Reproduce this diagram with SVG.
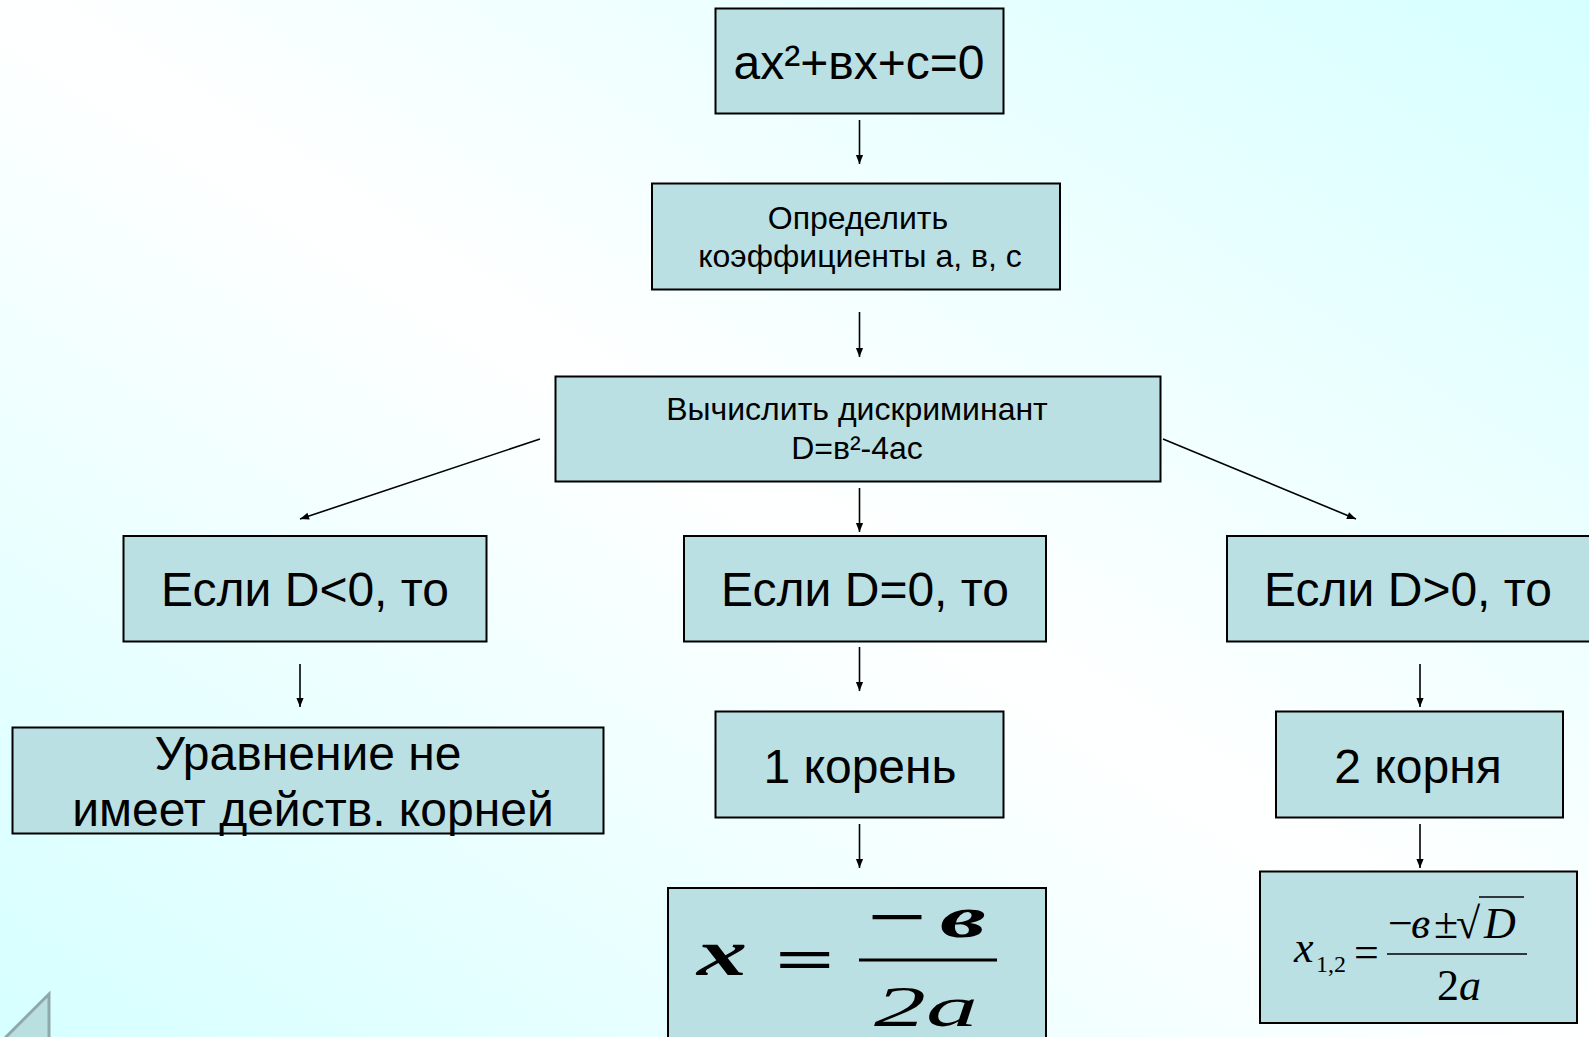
<svg xmlns="http://www.w3.org/2000/svg" width="1589" height="1037" viewBox="0 0 1589 1037">
  <defs>
    <linearGradient id="bg" x1="0" y1="1" x2="1" y2="0">
      <stop offset="0" stop-color="#d6ffff"/>
      <stop offset="0.5" stop-color="#ffffff"/>
      <stop offset="1" stop-color="#d6ffff"/>
    </linearGradient>
    <marker id="ah" viewBox="0 0 10 10" refX="10" refY="5" markerWidth="11" markerHeight="9" markerUnits="userSpaceOnUse" orient="auto">
      <path d="M0,1 L10,5 L0,9 Z" fill="#000"/>
    </marker>
    <style>
      .box { fill: #bbe0e3; stroke: #000; stroke-width: 2; }
      .t { font-family: "Liberation Sans", Arial, sans-serif; fill: #000; text-anchor: middle; }
      .big { font-size: 48px; }
      .mid { font-size: 32px; }
      .conn line { stroke: #000; stroke-width: 1.6; marker-end: url(#ah); }
      .m { font-family: "Liberation Serif", "Times New Roman", serif; fill: #000; }
    </style>
  </defs>
  <rect x="0" y="0" width="1589" height="1037" fill="url(#bg)"/>
  <polygon points="49,994 49,1045 -2,1045" fill="#b9dfe0" stroke="#8fa9aa" stroke-width="3"/>

  <g id="connectors" class="conn">
    <line x1="859.5" y1="120" x2="859.5" y2="164"/>
    <line x1="859.5" y1="312" x2="859.5" y2="357"/>
    <line x1="540" y1="439" x2="300" y2="519"/>
    <line x1="1163" y1="439" x2="1356" y2="519"/>
    <line x1="859.5" y1="488" x2="859.5" y2="532"/>
    <line x1="300" y1="664" x2="300" y2="707"/>
    <line x1="859.5" y1="647" x2="859.5" y2="691"/>
    <line x1="859.5" y1="824" x2="859.5" y2="868"/>
    <line x1="1420" y1="664" x2="1420" y2="707"/>
    <line x1="1420" y1="824" x2="1420" y2="868"/>
  </g>

  <g id="n-equation">
    <rect class="box" x="715.5" y="8.5" width="288" height="105"/>
    <text class="t big" x="859" y="79">ax²+вx+c=0</text>
  </g>
  <g id="n-coeffs">
    <rect class="box" x="652" y="183.5" width="408" height="106"/>
    <text class="t mid" x="858" y="229">Определить</text>
    <text class="t mid" x="860" y="267">коэффициенты а, в, с</text>
  </g>
  <g id="n-discriminant">
    <rect class="box" x="555.5" y="376.5" width="605" height="105"/>
    <text class="t mid" x="857" y="420">Вычислить дискриминант</text>
    <text class="t mid" x="857" y="459">D=в²-4ас</text>
  </g>
  <g id="n-dneg">
    <rect class="box" x="123.5" y="536" width="363" height="105.5"/>
    <text class="t big" x="305" y="606">Если D&lt;0, то</text>
  </g>
  <g id="n-dzero">
    <rect class="box" x="684" y="536" width="362" height="105.5"/>
    <text class="t big" x="865" y="606">Если D=0, то</text>
  </g>
  <g id="n-dpos">
    <rect class="box" x="1227" y="536" width="370" height="105.5"/>
    <text class="t big" x="1408" y="606">Если D&gt;0, то</text>
  </g>
  <g id="n-noroots">
    <rect class="box" x="12.5" y="727.5" width="591" height="106"/>
    <text class="t big" x="308" y="770">Уравнение не</text>
    <text class="t big" x="313" y="826">имеет действ. корней</text>
  </g>
  <g id="n-oneroot">
    <rect class="box" x="715.5" y="711.5" width="288" height="106"/>
    <text class="t big" x="860" y="783">1 корень</text>
  </g>
  <g id="n-tworoots">
    <rect class="box" x="1276" y="711.5" width="287" height="106"/>
    <text class="t big" x="1418" y="783">2 корня</text>
  </g>
  <g id="n-formula1">
    <rect class="box" x="668" y="888" width="378" height="160"/>
    <text class="m" x="697" y="975" font-size="66" font-style="italic" font-weight="bold" textLength="50" lengthAdjust="spacingAndGlyphs">x</text>
    <text class="m" x="775" y="979" font-size="60" font-weight="bold" textLength="60" lengthAdjust="spacingAndGlyphs">=</text>
    <text class="m" y="937" font-size="60" font-weight="bold"><tspan x="867" textLength="60" lengthAdjust="spacingAndGlyphs">−</tspan><tspan x="940" font-style="italic" textLength="46" lengthAdjust="spacingAndGlyphs">в</tspan></text>
    <line x1="859" y1="960" x2="997" y2="960" stroke="#000" stroke-width="3"/>
    <text class="m" x="874" y="1026" font-size="58" font-style="italic" textLength="104" lengthAdjust="spacingAndGlyphs">2a</text>
  </g>
  <g id="n-formula2">
    <rect class="box" x="1260" y="871.5" width="317" height="151.5"/>
    <text class="m" y="962"><tspan x="1294" font-size="44" font-style="italic">x</tspan><tspan x="1316" y="972" font-size="24">1,2</tspan></text>
    <text class="m" x="1354" y="967" font-size="44">=</text>
    <text class="m" y="938" font-size="44"><tspan x="1388">−</tspan><tspan x="1411" font-style="italic">в</tspan><tspan x="1434">±</tspan><tspan x="1456">√</tspan><tspan x="1484" font-style="italic">D</tspan></text>
    <line x1="1479" y1="897" x2="1524" y2="897" stroke="#000" stroke-width="1.6"/>
    <line x1="1387" y1="954" x2="1527" y2="954" stroke="#000" stroke-width="1.6"/>
    <text class="m" x="1437" y="1000" font-size="44">2<tspan font-style="italic">a</tspan></text>
  </g>
</svg>
